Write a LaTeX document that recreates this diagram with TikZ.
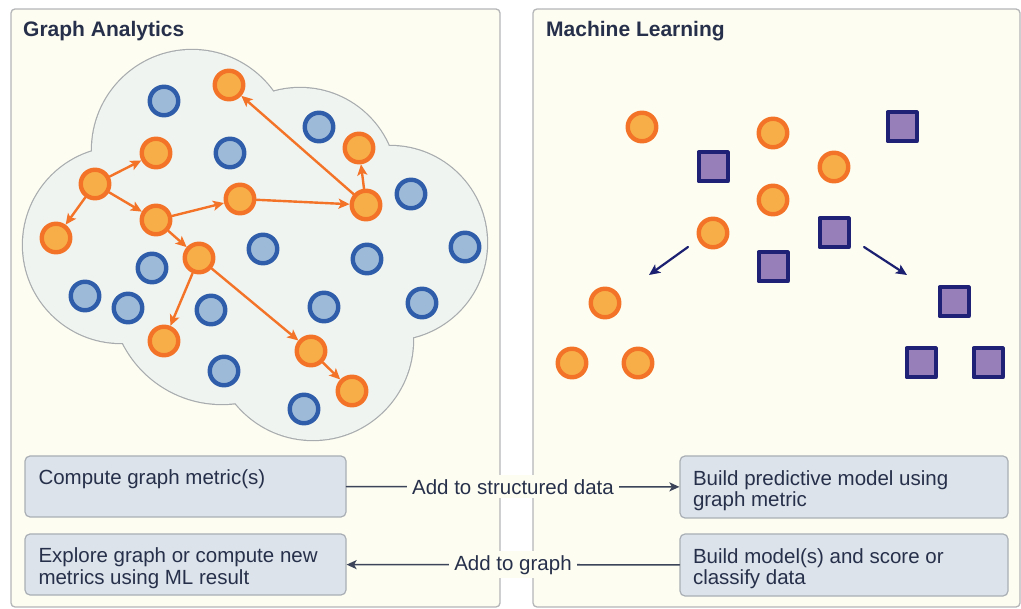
\documentclass[tikz,border=0pt]{standalone}
\usepackage{fontspec}
\setmainfont{Liberation Sans}
\usetikzlibrary{arrows.meta}
\definecolor{ored}{HTML}{F37428}
\definecolor{oyel}{HTML}{F7AE48}
\definecolor{bdark}{HTML}{2F5DA9}
\definecolor{blight}{HTML}{9DBAD8}
\definecolor{sqline}{HTML}{1E2175}
\definecolor{sqfill}{HTML}{9780BA}
\definecolor{cloudfill}{HTML}{F0F4F0}
\definecolor{cloudline}{HTML}{A8ACAE}
\definecolor{panelfill}{HTML}{FDFDF1}
\definecolor{panelline}{HTML}{B4B6B8}
\definecolor{boxfill}{HTML}{DCE3EA}
\definecolor{boxline}{HTML}{A9AFB5}
\definecolor{ink}{HTML}{27304A}
\definecolor{conn}{HTML}{3B4458}
\definecolor{mlarrow}{HTML}{1C2070}
\newcommand{\boxtext}[2]{\parbox[c][33pt][t]{#1}{\raggedright #2}}
\vfuzz=30pt
\begin{document}
\begin{tikzpicture}[x=1pt,y=-1pt,line join=round,line cap=round,>={Stealth[length=11pt,width=10pt,inset=2.5pt]},
	onode/.style={circle,draw=ored,fill=oyel,line width=4.4pt,minimum size=28.5pt,inner sep=0pt},
	bnode/.style={circle,draw=bdark,fill=blight,line width=4.4pt,minimum size=28.5pt,inner sep=0pt},
	snode/.style={rectangle,draw=sqline,fill=sqfill,line width=4pt,minimum size=29pt,inner sep=0pt},
	oarrow/.style={->,draw=ored,line width=2.4pt},
	narrow/.style={->,draw=mlarrow,line width=2.2pt},
	panel/.style={draw=panelline,fill=panelfill,line width=1.3pt,rounded corners=4pt},
	title/.style={anchor=base west,text=ink,font=\fontsize{21}{24}\selectfont\bfseries,inner sep=0pt},
	box/.style={rectangle,rounded corners=5pt,draw=boxline,fill=boxfill,line width=1.2pt,inner sep=0pt,text=ink,font=\fontsize{20.5}{21.5}\selectfont},
	lbl/.style={fill=panelfill,text=ink,inner xsep=5pt,inner ysep=4pt,font=\fontsize{20.5}{21.5}\selectfont},
	link/.style={draw=conn,line width=1.6pt,>={Stealth[length=10pt,width=9pt,inset=2.5pt]}}]
	\useasboundingbox (0,0) rectangle (1021,609);
	\fill[white] (0,0) rectangle (1021,609);
	\draw[panel] (11,9) rectangle (500,607);
	\draw[panel] (533,9) rectangle (1020,607);
	\node[title] (ga) at (23,36.5) {Graph Analytics};
	\node[title] (ml) at (546,36.5) {Machine Learning};
	\foreach \cx/\cy/\r in {192/150/100, 300/185/97, 390/243/97, 313/340/100, 222/293/111, 121/245/98}
		\draw[cloudline,line width=2.4pt] (\cx,\cy) circle (\r pt);
	\foreach \cx/\cy/\r in {192/150/100, 300/185/97, 390/243/97, 313/340/100, 222/293/111, 121/245/98}
		\fill[cloudfill] (\cx,\cy) circle (\r pt);
	\foreach \n/\x/\y in {b1/164/101, b2/230/153, b3/319/127, b4/411/194, b5/465/247, b6/263/249, b7/367/259, b8/152/268, b9/85/296, b10/128/308, b11/211/310, b12/324/307, b13/422/303, b14/224/371, b15/304/409}
		\node[bnode] (\n) at (\x,\y) {};
	\foreach \n/\x/\y in {o1/229/85, o2/156/153, o3/95/184, o4/56/238, o5/156/220, o6/240/199, o7/366/205, o8/359/148, o9/199/258, o10/164/341, o11/311/351, o12/352/391}
		\node[onode] (\n) at (\x,\y) {};
	\foreach \a/\b in {o3/o2, o3/o4, o3/o5, o5/o6, o5/o9, o6/o7, o7/o1, o7/o8, o9/o10, o9/o11, o11/o12}
		\draw[oarrow] (\a) -- (\b);
	\foreach \n/\x/\y in {m1/642/127, m2/773/133, m3/834/167, m4/773/200, m5/713/233, m6/605/303, m7/572/363, m8/638/363}
		\node[onode] (\n) at (\x,\y) {};
	\foreach \n/\x/\y in {q1/902/127, q2/713/167, q3/834/233, q4/773/267, q5/954/302, q6/921/363, q7/988/363}
		\node[snode] (\n) at (\x,\y) {};
	\coordinate (la) at (688,247);
	\coordinate (lb) at (649,275);
	\coordinate (ra) at (864,247);
	\coordinate (rb) at (907,275);
	\draw[narrow] (la) -- (lb);
	\draw[narrow] (ra) -- (rb);
	\node[box,minimum width=321pt,minimum height=61pt] (cgm) at (185.5,486.5) {\boxtext{294pt}{Compute graph metric(s)}};
	\node[box,minimum width=321pt,minimum height=61pt] (egm) at (185.5,564.5) {\boxtext{294pt}{Explore graph or compute new metrics using ML result}};
	\node[box,minimum width=328pt,minimum height=62pt] (bpm) at (844,487) {\boxtext{302pt}{Build predictive model using graph metric}};
	\node[box,minimum width=328pt,minimum height=62pt] (bmc) at (844,565) {\boxtext{302pt}{Build model(s) and score or classify data}};
	\draw[link,->] (cgm) -- node[lbl] {Add to structured data} (bpm);
	\draw[link,->] (bmc) -- node[lbl] {Add to graph} (egm);
\end{tikzpicture}
\end{document}
